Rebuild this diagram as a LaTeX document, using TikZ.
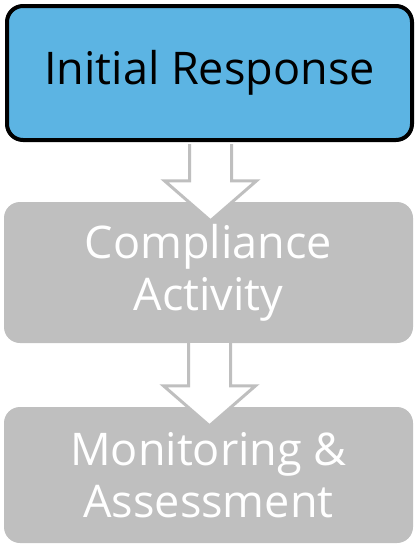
\documentclass[tikz,border=0pt]{standalone}
\usepackage{fontspec}
\setmainfont{Open Sans}
\usetikzlibrary{calc}
\definecolor{boxblue}{HTML}{5CB4E3}
\definecolor{boxgray}{HTML}{BFBFBF}
\begin{document}
\begin{tikzpicture}[x=1pt,y=-1pt,
  box/.style={rounded corners=16pt, inner sep=0pt, align=center,
    font=\fontsize{45}{52}\selectfont},
  bluebox/.style={box, fill=boxblue, draw=black, line width=4pt, text=black},
  graybox/.style={box, fill=boxgray, text=white},
  arrowfill/.style={fill=white},
  arrowline/.style={draw=boxgray, line width=3pt}]
\useasboundingbox (0,0) rectangle (415,546);
\node[bluebox, minimum width=405pt, minimum height=134pt] (box1) at (209.5,73) {Initial Response};
\node[graybox, minimum width=409pt, minimum height=141pt] (box2) at (208.5,272.5) {Compliance\\Activity};
\node[graybox, minimum width=409pt, minimum height=136pt] (box3) at (208.5,475) {Monitoring \&\\Assessment};
\foreach \a/\b/\o in {box1/box2/2pt, box2/box3/0pt}{
  \path let \p1=(\a.south), \p2=(\b.north) in
    [arrowfill] (\x1-20pt,\y1-\o) -- (\x1-20pt,\y2+21pt) -- (\x1-45pt,\y2+21pt) -- (\x1+1pt,\y2-19pt)
      -- (\x1+47pt,\y2+21pt) -- (\x1+22pt,\y2+21pt) -- (\x1+22pt,\y1-\o) -- cycle;
  \path let \p1=(\a.south), \p2=(\b.north) in
    [arrowline] (\x1-20pt,\y1-\o) -- (\x1-20pt,\y2+21pt) -- (\x1-45pt,\y2+21pt) -- (\x1+1pt,\y2-19pt)
      -- (\x1+47pt,\y2+21pt) -- (\x1+22pt,\y2+21pt) -- (\x1+22pt,\y1-\o);
}
\end{tikzpicture}
\end{document}
